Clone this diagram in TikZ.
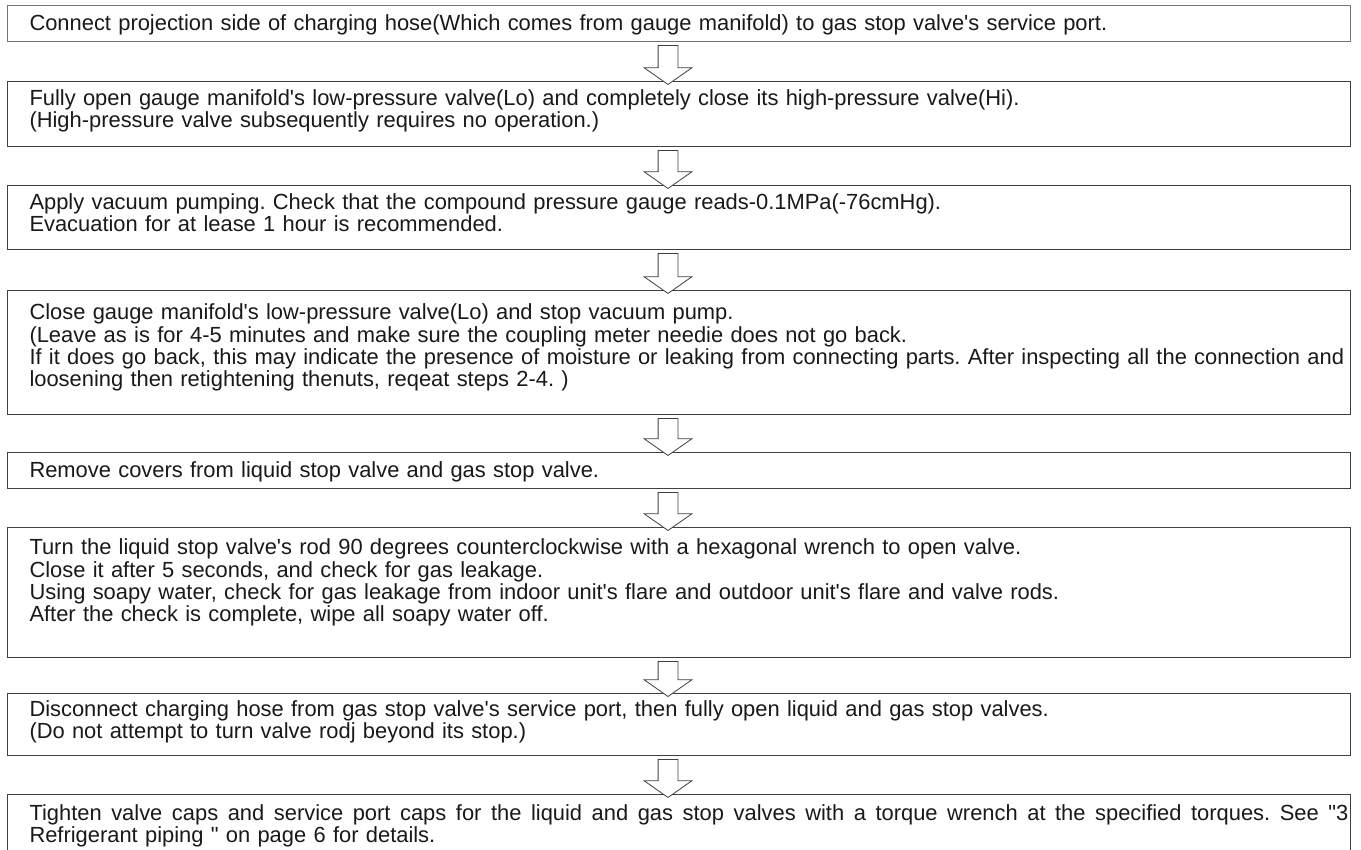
\documentclass[tikz,border=0pt]{standalone}
\usepackage{fontspec}
\newfontfamily\stepfont{Liberation Sans}
\usetikzlibrary{shapes.arrows,calc}

\newcommand\padbelow[1]{\rule[-#1]{0pt}{#1}}
\newcommand\padabove[1]{\rule{0pt}{#1}}
\newcommand\fullline[1]{\hbox to 1319pt{\spaceskip=0.278em plus 1fil\relax #1}}

\tikzset{
  stepbox/.style={draw=black!75, line width=1pt, anchor=north west, align=left,
    text width=1299pt, inner xsep=22pt, inner ysep=0pt, text=black!90,
    font=\stepfont\fontsize{21.9}{22.3}\selectfont\frenchspacing},
  downarrow/.style={single arrow, draw=black!75, fill=white, line width=0.8pt,
    shape border rotate=270, inner sep=9.5pt, single arrow head extend=14pt,
    single arrow tip angle=110, single arrow head indent=0pt}
}

\begin{document}
\begin{tikzpicture}[x=1pt,y=-1pt]
\useasboundingbox (0,0) rectangle (1361,850);
\clip (0,0) rectangle (1361,850);
% Steps
\node[stepbox, draw=black!55, minimum height=36pt] (b1) at (7,5)
  {\padabove{19pt}Connect projection side of charging hose(Which comes from gauge manifold) to gas stop valve's service port.};
\node[stepbox, minimum height=65pt] (b2) at (7,81)
  {Fully open gauge manifold's low-pressure valve(Lo) and completely close its high-pressure valve(Hi).\\
   (High-pressure valve subsequently requires no operation.)\padbelow{11pt}};
\node[stepbox, minimum height=64pt] (b3) at (7,185)
  {Apply vacuum pumping. Check that the compound pressure gauge reads-0.1MPa(-76cmHg).\\
   Evacuation for at lease 1 hour is recommended.\padbelow{10pt}};
\node[stepbox, minimum height=124pt] (b4) at (7,290)
  {Close gauge manifold's low-pressure valve(Lo) and stop vacuum pump.\\
   (Leave as is for 4-5 minutes and make sure the coupling meter needie does not go back.\\
   \mbox{If it does go back, this may indicate the presence of moisture or leaking from connecting parts. After inspecting all the connection and}\\
   loosening then retightening thenuts, reqeat steps 2-4. )\padbelow{14pt}};
\node[stepbox, minimum height=36pt] (b5) at (7,452)
  {\padabove{19pt}Remove covers from liquid stop valve and gas stop valve.};
\node[stepbox, minimum height=130pt] (b6) at (7,527)
  {Turn the liquid stop valve's rod 90 degrees counterclockwise with a hexagonal wrench to open valve.\\
   Close it after 5 seconds, and check for gas leakage.\\
   Using soapy water, check for gas leakage from indoor unit's flare and outdoor unit's flare and valve rods.\\
   After the check is complete, wipe all soapy water off.\padbelow{24pt}};
\node[stepbox, minimum height=62pt] (b7) at (7,693)
  {Disconnect charging hose from gas stop valve's service port, then fully open liquid and gas stop valves.\\
   (Do not attempt to turn valve rodj beyond its stop.)\padbelow{10pt}};
\node[stepbox, minimum height=62pt] (b8) at (7,794)
  {\fullline{Tighten valve caps and service port caps for the liquid and gas stop valves with a torque wrench at the specified torques. See "3}\\
   Refrigerant piping " on page 6 for details.};
% Arrows between steps
\coordinate (ax) at (668,0);
\foreach \i/\j in {1/2,2/3,3/4,4/5,5/6,6/7,7/8} {
  \coordinate (m\i) at ($(b\i.south)!0.5!(b\j.north)$);
  \path let \p1=(b\i.south), \p2=(b\j.north) in
    node[downarrow, minimum height={\y1-\y2}] (a\i) at (m\i -| ax) {};
}
\end{tikzpicture}
\end{document}
